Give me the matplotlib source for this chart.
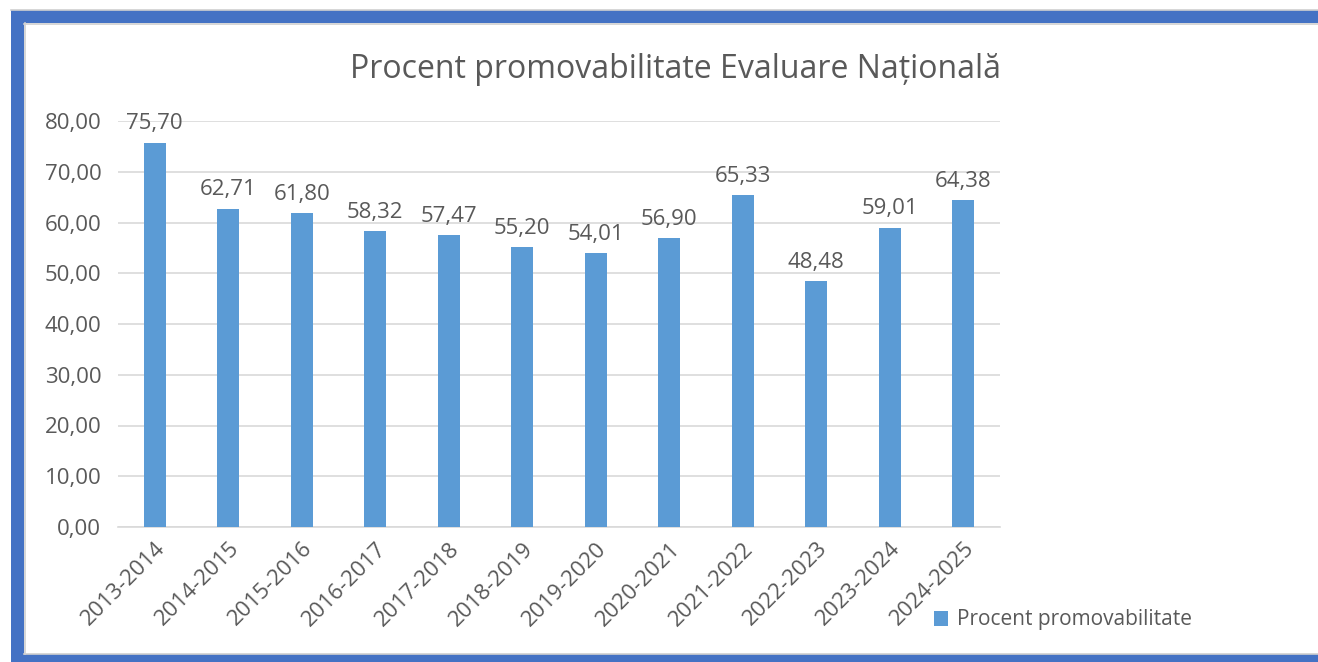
import matplotlib
matplotlib.use("Agg")
import matplotlib.pyplot as plt
from matplotlib.patches import Rectangle
from matplotlib.lines import Line2D

categories = ["2013-2014", "2014-2015", "2015-2016", "2016-2017", "2017-2018", "2018-2019",
              "2019-2020", "2020-2021", "2021-2022", "2022-2023", "2023-2024", "2024-2025"]
values = [75.70, 62.71, 61.80, 58.32, 57.47, 55.20, 54.01, 56.90, 65.33, 48.48, 59.01, 64.38]
yticks = [0, 10, 20, 30, 40, 50, 60, 70, 80]
title = "Procent promovabilitate Evaluare Națională"
series_name = "Procent promovabilitate"

W, H = 1318, 662
fig = plt.figure(figsize=(W / 100, H / 100), dpi=100)
plt.rcParams['font.family'] = ['Open Sans', 'DejaVu Sans']
txt = "#595959"
bar_c = "#5B9BD5"
fs = 16

# frame (blue border on left, top, bottom)
fig.patches.append(Rectangle((11 / W, 0), 1.2, 1 - 10 / H, transform=fig.transFigure,
                             facecolor="#4472C4", edgecolor="none", zorder=0))
fig.patches.append(Rectangle((24 / W, 8 / H), 1.2, 1 - 31 / H, transform=fig.transFigure,
                             facecolor="white", edgecolor="none", zorder=1))
gray = "#D0D0D0"
for xs, ys in [([24 / W, 1.0], [1 - 23.5 / H] * 2),
               ([24 / W, 1.0], [8.5 / H] * 2),
               ([24.5 / W] * 2, [8 / H, 1 - 23 / H]),
               ([11 / W, 1.0], [1 - 9.5 / H] * 2)]:
    fig.lines.append(Line2D(xs, ys, transform=fig.transFigure, color=gray, linewidth=1.2, zorder=1.5))

ax = fig.add_axes([118 / W, 1 - 527 / H, (1000 - 118) / W, (527 - 121) / H])
ax.set_zorder(2)
ax.patch.set_alpha(0)
x = range(len(categories))
bars = ax.bar(x, values, width=0.3, color=bar_c, zorder=3, label=series_name)
ax.set_xlim(-0.5, len(categories) - 0.5)
ax.set_ylim(0, 80)
ax.set_yticks(yticks)
ax.set_yticklabels([f"{v:.2f}".replace(".", ",") for v in yticks], color=txt, fontsize=fs)
ax.set_xticks(list(x))
ax.set_xticklabels(categories, rotation=45, ha="right", rotation_mode="anchor", color=txt, fontsize=fs)
ax.tick_params(axis="both", length=0, pad=12)
ax.tick_params(axis="x", pad=8)
ax.grid(axis="y", color="#D9D9D9", linewidth=1.2, zorder=0)
for s in ["top", "right", "left"]:
    ax.spines[s].set_visible(False)
ax.spines["bottom"].set_color("#D9D9D9")
ax.spines["bottom"].set_linewidth(1.2)

for xi, v in zip(x, values):
    ax.annotate(f"{v:.2f}".replace(".", ","), (xi, v), xytext=(0, 6), textcoords="offset points",
                ha="center", va="bottom", color=txt, fontsize=fs)

fig.text(675 / W, 1 - 70 / H, title, ha="center", va="center", color=txt, fontsize=23)

leg = fig.legend(handles=[bars], labels=[series_name], loc="center left",
                 bbox_to_anchor=(915 / W, 1 - 620 / H), frameon=False, fontsize=15,
                 handlelength=0.7, handleheight=0.7, handletextpad=0.4, labelcolor=txt)

fig.savefig("out.png", dpi=100)
